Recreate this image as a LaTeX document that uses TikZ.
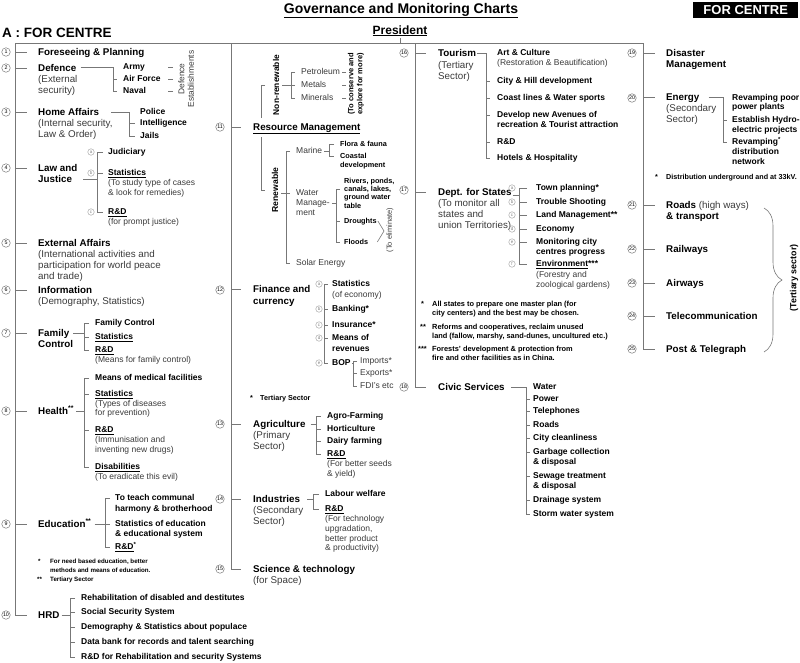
\documentclass[tikz,border=0pt]{standalone}
\usepackage{fontspec}
\setmainfont{Liberation Sans}
\usetikzlibrary{decorations.pathreplacing}
\definecolor{lg}{HTML}{777777}
\definecolor{tg}{HTML}{3A3A3A}
\newcommand\blk[6]{\foreach \blkl [count=\blki from 0] in {#6}{\node[#1] (#2\blki) at (#3,{#4+\blki*#5}) {\blkl};}}
\begin{document}
\begin{tikzpicture}[x=1pt,y=-1pt,
  base/.style={anchor=west, inner sep=0pt, text depth=0pt},
  M/.style={base, font=\fontsize{9.8}{11}\selectfont\bfseries, text height=6.3pt},
  Mr/.style={base, font=\fontsize{9.8}{11}\selectfont, text height=6.3pt, text=tg},
  S/.style={base, font=\fontsize{8.5}{10}\selectfont\bfseries, text height=5.4pt},
  Sr/.style={base, font=\fontsize{8.5}{10}\selectfont, text height=5.4pt, text=tg},
  X/.style={base, font=\fontsize{7.3}{8}\selectfont\bfseries, text height=4.7pt},
  Na/.style={base, font=\fontsize{6.2}{7}\selectfont\bfseries, text height=4pt},
  Nb/.style={base, font=\fontsize{7.4}{8}\selectfont\bfseries, text height=4.7pt},
  Nc/.style={base, font=\fontsize{7.2}{8}\selectfont\bfseries, text height=4.6pt},
  rot/.style={rotate=90, inner sep=0pt, align=center},
  cn/.style={circle, draw=lg, line width=0.5pt, minimum size=8.5pt, inner sep=0pt, font=\fontsize{5.3}{5.3}\selectfont},
  cl/.style={circle, draw=black!40, line width=0.4pt, minimum size=6.5pt, inner sep=0pt, font=\fontsize{4.5}{4.5}\selectfont, text=black!50},
  ln/.style={draw=lg, line width=0.6pt}]
\useasboundingbox (0,0) rectangle (800,662);

% ---------- headings ----------
\node[anchor=base, inner sep=0pt, font=\fontsize{14}{16}\selectfont\bfseries] (title) at (401,13) {\underline{Governance and Monitoring Charts}};
\node[anchor=north west, fill=black, text=white, inner sep=0pt, minimum width=105pt, minimum height=16pt, font=\fontsize{13}{14}\selectfont\bfseries] (fcbox) at (693,2) {FOR CENTRE};
\node[anchor=base west, inner sep=0pt, font=\fontsize{13.5}{15}\selectfont\bfseries] (atitle) at (2,37) {A : FOR CENTRE};
\node[anchor=base, inner sep=0pt, font=\fontsize{12}{14}\selectfont\bfseries] (pres) at (400,34) {\underline{President}};

% ---------- frame ----------
\coordinate (sL) at (15,43);
\coordinate (sM) at (231,43);
\coordinate (sR) at (415,43);
\coordinate (sE) at (643,43);
\draw[ln] (sL) -- (sE);
\draw[ln] ([yshift=-2pt]pres.south) -- (pres.south |- sM);

% ================= LEFT COLUMN =================
\node[M] (n1) at (38,52) {Foreseeing \& Planning};

\node[M] (n2) at (38,68) {Defence};
\blk{Mr}{n2p}{38}{79}{11}{{(External},{security)}}
\node[S] (army) at (123,67) {Army};
\node[S] (airf) at (123,79) {Air Force};
\node[S] (naval) at (123,91) {Naval};
\coordinate (v2) at (113,0);
\draw[ln] (n2.east |- army.west) ++(4,0) -- (v2 |- army.west) -- (v2 |- naval.west) -- ([xshift=-6pt]naval.west);
\draw[ln] (v2 |- airf.west) -- ([xshift=-6pt]airf.west);
\node[rot, font=\fontsize{8.4}{9.5}\selectfont, text=tg] (dest) at (186,79) {Defence\\Establishments};
\coordinate (v2b) at (173,0);
\foreach \n in {army,airf,naval} \draw[ln] (v2b |- \n.west) -- ++(-5,0);

\node[M] (n3) at (38,112) {Home Affairs};
\blk{Mr}{n3p}{38}{123}{11}{{(Internal security,},{Law \& Order)}}
\node[S] (police) at (140,112) {Police};
\node[S] (intel) at (140,123) {Intelligence};
\node[S] (jails) at (140,136) {Jails};
\coordinate (v3) at (129,0);
\draw[ln] (n3.east) ++(12,0) -- (v3 |- n3.east) -- (v3 |- jails.west) -- ([xshift=-5pt]jails.west);
\draw[ln] (v3 |- intel.west) -- ([xshift=-5pt]intel.west);

\node[M] (n4) at (38,168) {Law and};
\node[M] (n4b) at (38,179) {Justice};
\node[S] (jud) at (108,152) {Judiciary};
\node[S] (lstat) at (108,173) {\underline{Statistics}};
\blk{Sr}{lstatp}{108}{183}{10}{{(To study type of cases},{\& look for remedies)}}
\node[S] (lrd) at (108,212) {\underline{R\&D}};
\node[Sr] (lrdp) at (108,222) {(for prompt justice)};
\coordinate (v4) at (97,0);
\draw[ln] (n4b.east) ++(11,0) -- (v4 |- n4b.east);
\draw[ln] ([xshift=-5pt]jud.west) -- (v4 |- jud.west) -- (v4 |- lrd.west) -- ([xshift=-5pt]lrd.west);
\draw[ln] (v4 |- lstat.west) -- ([xshift=-5pt]lstat.west);
\node[cl] (la) at (91,152) {a};
\node[cl] (lb) at (91,173) {b};
\node[cl] (lc) at (91,212) {c};

\node[M] (n5) at (38,243) {External Affairs};
\blk{Mr}{n5p}{38}{254}{11}{{(International activities and},{participation for world peace},{and trade)}}

\node[M] (n6) at (38,290) {Information};
\node[Mr] (n6p) at (38,301) {(Demography, Statistics)};

\node[M] (n7) at (38,333) {Family};
\node[M] (n7b) at (38,344) {Control};
\node[S] (fc1) at (95,323) {Family Control};
\node[S] (fc2) at (95,337) {\underline{Statistics}};
\node[S] (fc3) at (95,350) {\underline{R\&D}};
\node[Sr] (fc3p) at (95,360) {(Means for family control)};
\coordinate (v7) at (84,0);
\draw[ln] (n7.east) ++(4,0) -- (v7 |- n7.east);
\draw[ln] ([xshift=-6pt]fc1.west) -- (v7 |- fc1.west) -- (v7 |- fc3.west) -- ([xshift=-6pt]fc3.west);
\draw[ln] (v7 |- fc2.west) -- ([xshift=-6pt]fc2.west);

\node[M] (n8) at (38,411) {Health\textsuperscript{**}};
\node[S] (h1) at (95,378) {Means of medical facilities};
\node[S] (h2) at (95,394) {\underline{Statistics}};
\blk{Sr}{h2p}{95}{403.5}{9.5}{{(Types of diseases},{for prevention)}}
\node[S] (h3) at (95,430) {\underline{R\&D}};
\blk{Sr}{h3p}{95}{440}{9.5}{{(Immunisation and},{inventing new drugs)}}
\node[S] (h4) at (95,467) {\underline{Disabilities}};
\node[Sr] (h4p) at (95,477) {(To eradicate this evil)};
\coordinate (v8) at (84,0);
\draw[ln] (n8.east) ++(2,0) -- (v8 |- n8.east);
\draw[ln] ([xshift=-6pt]h1.west) -- (v8 |- h1.west) -- (v8 |- h4.west) -- ([xshift=-6pt]h4.west);
\foreach \n in {h2,h3} \draw[ln] (v8 |- \n.west) -- ([xshift=-6pt]\n.west);

\node[M] (n9) at (38,524) {Education\textsuperscript{**}};
\node[S] (e1) at (115,498) {To teach communal};
\node[S] (e1b) at (115,509) {harmony \& brotherhood};
\node[S] (e2) at (115,524) {Statistics of education};
\node[S] (e2b) at (115,534) {\& educational system};
\node[S] (e3) at (115,547) {\underline{R\&D}\textsuperscript{*}};
\coordinate (v9) at (105,0);
\draw[ln] (n9.east) ++(3,0) -- ([xshift=-5pt]e2.west);
\draw[ln] ([xshift=-5pt]e1.west) -- (v9 |- e1.west) -- (v9 |- e3.west) -- ([xshift=-5pt]e3.west);
\node[Na] (ne1s) at (38,561) {*};
\blk{Na}{ne1}{50}{561}{9}{{For need based education, better},{methods and means of education.}}
\node[Na] (ne2s) at (37,579) {**};
\node[Na] (ne2) at (50,579) {Tertiary Sector};

\node[M] (n10) at (38,615) {HRD};
\node[S] (r1) at (81,598) {Rehabilitation of disabled and destitutes};
\node[S] (r2) at (81,612) {Social Security System};
\node[S] (r3) at (81,627) {Demography \& Statistics about populace};
\node[S] (r4) at (81,642) {Data bank for records and talent searching};
\node[S] (r5) at (81,657) {R\&D for Rehabilitation and security Systems};
\coordinate (v10) at (70,0);
\draw[ln] (n10.east) ++(2,0) -- (v10 |- n10.east);
\draw[ln] ([xshift=-6pt]r1.west) -- (v10 |- r1.west) -- (v10 |- r5.west) -- ([xshift=-6pt]r5.west);
\foreach \n in {r2,r3,r4} \draw[ln] (v10 |- \n.west) -- ([xshift=-6pt]\n.west);

% left spine and numbers
\draw[ln] (sL) -- (sL |- n10.west) -- ([xshift=-11pt]n10.west);
\foreach \n in {n1,n2,n3,n4,n5,n6,n7,n8,n9} \draw[ln] (sL |- \n.west) -- ([xshift=-11pt]\n.west);
\foreach \k/\y in {1/52,2/68,3/112,4/168,5/243,6/290,7/333,8/411,9/524,10/615} \node[cn] (c\k) at (6,\y) {\k};

% ================= MIDDLE COLUMN =================
\node[M] (rm) at (253,127) {\underline{Resource Management}};
\coordinate (nrT) at (261,85);
\coordinate (nrB) at (261,118);
\coordinate (rnT) at (261,137);
\coordinate (rnB) at (261,190);
\draw[ln] ([xshift=4pt]nrT) -- (nrT) -- (nrB);
\draw[ln] (rnT) -- (rnB) -- ++(4,0);
\node[rot, font=\fontsize{8.4}{9}\selectfont\bfseries] (nr) at (276,85) {Non-renewable};
\node[rot, font=\fontsize{8.6}{9}\selectfont\bfseries] (ren) at (275,190) {Renewable};

\node[Sr] (pet) at (301,72) {Petroleum};
\node[Sr] (met) at (301,85) {Metals};
\node[Sr] (min) at (301,98) {Minerals};
\coordinate (v11a) at (291,0);
\draw[ln] (nr.south |- met.west) ++(3,0) -- ([xshift=-6pt]met.west);
\draw[ln] ([xshift=-6pt]pet.west) -- (v11a |- pet.west) -- (v11a |- min.west) -- ([xshift=-6pt]min.west);
\node[rot, font=\fontsize{7.5}{9}\selectfont\bfseries] (cons) at (356,84) {(To conserve and\\explore for more)};
\coordinate (v11b) at (346,0);
\foreach \n in {pet,met,min} \draw[ln] (v11b |- \n.west) -- ++(-4,0);

\node[Sr] (mar) at (296,151) {Marine};
\node[Sr] (wat) at (296,193) {Water};
\node[Sr] (wat2) at (296,203) {Manage-};
\node[Sr] (wat3) at (296,213) {ment};
\node[Sr] (sol) at (296,263) {Solar Energy};
\coordinate (v11c) at (286,0);
\draw[ln] (ren.south |- wat.west) ++(3,0) -- ([xshift=-6pt]wat.west);
\draw[ln] ([xshift=-6pt]mar.west) -- (v11c |- mar.west) -- (v11c |- sol.west) -- ([xshift=-6pt]sol.west);

\node[X] (ff) at (340,144) {Flora \& fauna};
\node[X] (cd) at (340,156) {Coastal};
\node[X] (cd2) at (340,165) {development};
\coordinate (v11d) at (329,0);
\draw[ln] (mar.east) ++(2,0) -- (v11d |- mar.east);
\draw[ln] ([xshift=-6pt]ff.west) -- (v11d |- ff.west) -- (v11d |- cd.west) -- ([xshift=-6pt]cd.west);

\blk{X}{riv}{344}{181}{8.3}{{Rivers, ponds,},{canals, lakes,},{ground water},{table}}
\node[X] (dro) at (344,221) {Droughts};
\node[X] (flo) at (344,242) {Floods};
\coordinate (v11e) at (336,0);
\draw[ln] (wat2.east) ++(2,0) -- (v11e |- wat2.east);
\draw[ln] ([xshift=-4pt]riv1.west) -- (v11e |- riv1.west) -- (v11e |- flo.west) -- ([xshift=-4pt]flo.west);
\draw[ln] (v11e |- dro.west) -- ([xshift=-4pt]dro.west);
\coordinate (elim) at (384,231);
\draw[ln] ([xshift=1pt]dro.east) -- (elim) -- ([xshift=9pt]flo.east);
\node[rot, font=\fontsize{7.4}{8}\selectfont, text=tg] (elimt) at (390,230) {(To eliminate)};

\node[M] (fin) at (253,289) {Finance and};
\node[M] (fin2) at (253,301) {currency};
\node[S] (f1) at (332,284) {Statistics};
\node[Sr] (f1p) at (332,295) {(of economy)};
\node[S] (f2) at (332,309) {Banking*};
\node[S] (f3) at (332,325) {Insurance*};
\node[S] (f4) at (332,338) {Means of};
\node[S] (f4b) at (332,349) {revenues};
\node[S] (f5) at (332,363) {BOP};
\coordinate (v12) at (324,0);
\draw[ln] ([xshift=-4pt]f1.west) -- (v12 |- f1.west) -- (v12 |- f5.west) -- ([xshift=-4pt]f5.west);
\foreach \n in {f2,f3,f4} \draw[ln] (v12 |- \n.west) -- ([xshift=-4pt]\n.west);
\foreach \n/\l in {f1/a,f2/b,f3/c,f4/d,f5/e} \node[cl] (fl\l) at (319,0 |- \n.west) {\l};
\node[Sr] (imp) at (360,361) {Imports*};
\node[Sr] (exp) at (360,373) {Exports*};
\node[Sr] (fdi) at (360,386) {FDI's etc};
\coordinate (v12b) at (353,0);
\draw[ln] (f5.east) ++(1,0) -- (v12b |- f5.east);
\draw[ln] ([xshift=-3pt]imp.west) -- (v12b |- imp.west) -- (v12b |- fdi.west) -- ([xshift=-3pt]fdi.west);
\draw[ln] (v12b |- exp.west) -- ([xshift=-3pt]exp.west);
\node[Nc] (nts) at (250,398) {*};
\node[Nc] (nt) at (260,398) {Tertiary Sector};

\node[M] (agr) at (253,424) {Agriculture};
\blk{Mr}{agrp}{253}{435}{11}{{(Primary},{Sector)}}
\node[S] (a1) at (327,416) {Agro-Farming};
\node[S] (a2) at (327,429) {Horticulture};
\node[S] (a3) at (327,441) {Dairy farming};
\node[S] (a4) at (327,454) {\underline{R\&D}};
\blk{Sr}{a4p}{327}{464}{10}{{(For better seeds},{\& yield)}}
\coordinate (v13) at (316,0);
\draw[ln] (agr.east) ++(5,0) -- (v13 |- agr.east);
\draw[ln] ([xshift=-6pt]a1.west) -- (v13 |- a1.west) -- (v13 |- a4.west) -- ([xshift=-6pt]a4.west);
\foreach \n in {a2,a3} \draw[ln] (v13 |- \n.west) -- ([xshift=-6pt]\n.west);

\node[M] (ind) at (253,499) {Industries};
\blk{Mr}{indp}{253}{510}{11}{{(Secondary},{Sector)}}
\node[S] (i1) at (325,494) {Labour welfare};
\node[S] (i2) at (325,509) {\underline{R\&D}};
\blk{Sr}{i2p}{325}{519}{9.7}{{(For technology},{upgradation,},{better product},{\& productivity)}}
\coordinate (v14) at (313,0);
\draw[ln] (ind.east) ++(7,0) -- (v14 |- ind.east);
\draw[ln] ([xshift=-6pt]i1.west) -- (v14 |- i1.west) -- (v14 |- i2.west) -- ([xshift=-6pt]i2.west);

\node[M] (sci) at (253,569) {Science \& technology};
\node[Mr] (scip) at (253,580) {(for Space)};

\draw[ln] (sM) -- (sM |- sci.west) -- ([xshift=-12pt]sci.west);
\foreach \n in {rm,fin,agr,ind} \draw[ln] (sM |- \n.west) -- ([xshift=-12pt]\n.west);
\foreach \k/\y in {11/127,12/290,13/424,14/499,15/569} \node[cn] (c\k) at (220,\y) {\k};

% ================= RIGHT-MIDDLE COLUMN =================
\node[M] (tour) at (438,53) {Tourism};
\blk{Mr}{tourp}{438}{65}{11}{{(Tertiary},{Sector)}}
\node[S] (t1) at (497,53) {Art \& Culture};
\node[Sr] (t1p) at (497,63) {(Restoration \& Beautification)};
\node[S] (t2) at (497,81) {City \& Hill development};
\node[S] (t3) at (497,98) {Coast lines \& Water sports};
\node[S] (t4) at (497,115) {Develop new Avenues of};
\node[S] (t4b) at (497,125) {recreation \& Tourist attraction};
\node[S] (t5) at (497,142) {R\&D};
\node[S] (t6) at (497,158) {Hotels \& Hospitality};
\coordinate (v16) at (486,0);
\draw[ln] (tour.east) ++(1,0) -- (v16 |- tour.east) -- (v16 |- t6.west) -- ([xshift=-7pt]t6.west);
\foreach \n in {t2,t3,t4,t5} \draw[ln] (v16 |- \n.west) -- ([xshift=-7pt]\n.west);

\node[M] (dept) at (438,192) {Dept. for States};
\blk{Mr}{deptp}{438}{203}{11.3}{{(To monitor all},{states and},{union Territories)}}
\node[S] (d1) at (536,188) {Town planning*};
\node[S] (d2) at (536,202) {Trouble Shooting};
\node[S] (d3) at (536,215) {Land Management**};
\node[S] (d4) at (536,229) {Economy};
\node[S] (d5) at (536,242) {Monitoring city};
\node[S] (d5b) at (536,252) {centres progress};
\node[S] (d6) at (536,264) {\underline{Environment}***};
\blk{Sr}{d6p}{536}{275}{10}{{(Forestry and},{zoological gardens)}}
\coordinate (v17) at (519,0);
\coordinate (dj) at (519,195);
\draw[ln] ([xshift=1pt,yshift=-3pt]dept.east) -- (dj);
\draw[ln] ([xshift=-9pt]d1.west) -- (v17 |- d1.west) -- (v17 |- d6.west) -- ([xshift=-9pt]d6.west);
\foreach \n in {d2,d3,d4,d5} \draw[ln] (v17 |- \n.west) -- ([xshift=-9pt]\n.west);
\foreach \n/\l in {d1/a,d2/b,d3/c,d4/d,d5/e,d6/f} \node[cl] (dl\l) at (512,0 |- \n.west) {\l};

\node[Nb] (s1s) at (421,304) {*};
\blk{Nb}{s1}{432}{304}{9}{{All states to prepare one master plan (for},{city centers) and the best may be chosen.}}
\node[Nb] (s2s) at (420,327) {**};
\blk{Nb}{s2}{432}{327}{9}{{Reforms and cooperatives, reclaim unused},{land (fallow, marshy, sand-dunes, uncultured etc.)}}
\node[Nb] (s3s) at (418,349) {***};
\blk{Nb}{s3}{432}{349}{9}{{Forests' development \& protection from},{fire and other facilities as in China.}}

\node[M] (civ) at (438,387) {Civic Services};
\node[S] (cv1) at (533,387) {Water};
\node[S] (cv2) at (533,399) {Power};
\node[S] (cv3) at (533,411) {Telephones};
\node[S] (cv4) at (533,425) {Roads};
\node[S] (cv5) at (533,438) {City cleanliness};
\node[S] (cv6) at (533,452) {Garbage collection};
\node[S] (cv6b) at (533,462) {\& disposal};
\node[S] (cv7) at (533,476) {Sewage treatment};
\node[S] (cv7b) at (533,486) {\& disposal};
\node[S] (cv8) at (533,500) {Drainage system};
\node[S] (cv9) at (533,514) {Storm water system};
\coordinate (v18) at (526,0);
\draw[ln] (civ.east) ++(6,0) -- (v18 |- cv1.west) -- (v18 |- cv9.west) -- ([xshift=-3pt]cv9.west);
\foreach \n in {cv2,cv3,cv4,cv5,cv6,cv7,cv8} \draw[ln] (v18 |- \n.west) -- ([xshift=-3pt]\n.west);

\draw[ln] (sR) -- (sR |- civ.west) -- ([xshift=-12pt]civ.west);
\foreach \n in {tour,dept} \draw[ln] (sR |- \n.west) -- ([xshift=-12pt]\n.west);
\foreach \k/\y in {16/53,17/190,18/387} \node[cn] (c\k) at (404,\y) {\k};

% ================= RIGHT COLUMN =================
\node[M] (dis) at (666,53) {Disaster};
\node[M] (dis2) at (666,64) {Management};
\node[M] (en) at (666,97.5) {Energy};
\blk{Mr}{enp}{666}{108.5}{10.5}{{(Secondary},{Sector)}}
\node[S] (en1) at (732,97.5) {Revamping poor};
\node[S] (en1b) at (732,106.5) {power plants};
\node[S] (en2) at (732,120) {Establish Hydro-};
\node[S] (en2b) at (732,129.5) {electric projects};
\node[S] (en3) at (732,142) {Revamping\textsuperscript{*}};
\node[S] (en3b) at (732,152) {distribution};
\node[S] (en3c) at (732,162) {network};
\coordinate (v20) at (723,0);
\draw[ln] (en.east) ++(9,0) -- (v20 |- en1.west) -- (v20 |- en3.west) -- ([xshift=-5pt]en3.west);
\draw[ln] (v20 |- en2.west) -- ([xshift=-5pt]en2.west);
\node[Nc] (ens) at (655,177) {*};
\node[Nc] (ent) at (666,177) {Distribution underground and at 33kV.};

\node[M] (roads) at (666,205) {Roads {\mdseries\color{tg}(high ways)}};
\node[M] (roads2) at (666,216) {\& transport};
\node[M] (rail) at (666,249) {Railways};
\node[M] (airw) at (666,283) {Airways};
\node[M] (tele) at (666,316) {Telecommunication};
\node[M] (post) at (666,349) {Post \& Telegraph};
\coordinate (brT) at (764,208);
\coordinate (brB) at (764,352);
\draw[ln, decorate, decoration={brace, amplitude=18pt}] (brT) -- (brB);
\node[rot, font=\fontsize{8.9}{10}\selectfont\bfseries] (tsec) at (794,278) {(Tertiary sector)};

\draw[ln] (sE) -- (sE |- post.west) -- ([xshift=-11pt]post.west);
\foreach \n in {dis,en,roads,rail,airw,tele} \draw[ln] (sE |- \n.west) -- ([xshift=-11pt]\n.west);
\foreach \k/\y in {19/53,20/98,21/205,22/249,23/283,24/316,25/349} \node[cn] (c\k) at (632,\y) {\k};
\end{tikzpicture}
\end{document}
